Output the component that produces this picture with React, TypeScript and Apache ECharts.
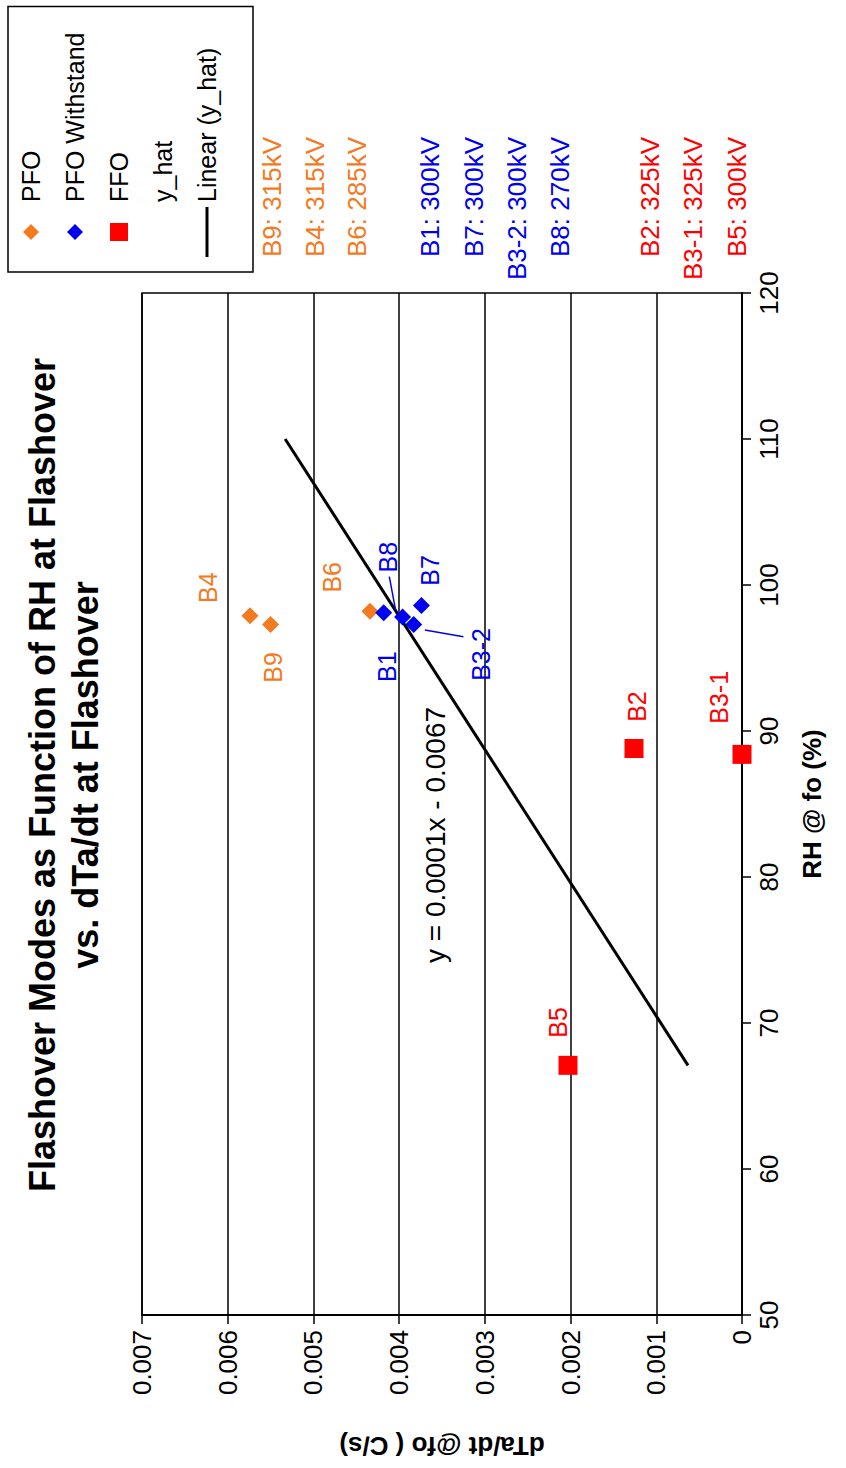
import React, { useEffect, useRef } from "react";
import * as echarts from "echarts";

const FONT = '"Liberation Sans", Arial, Helvetica, sans-serif';

// ---- texts ----
const titleLines = [
  "Flashover Modes as Function of RH at Flashover",
  "vs. dTa/dt at Flashover",
];
const xAxisName = "RH @ fo (%)";
const yAxisName = "dTa/dt @fo ( C/s)";
const equationText = "y = 0.0001x - 0.0067";

// ---- axis ranges ----
const xMin = 50;
const xMax = 120;
const xStep = 10;
const yMin = 0;
const yMax = 0.007;
const yStep = 0.001;

// ---- data ----
const pfoNames = ["B4", "B9", "B6"];
const pfoRH = [97.9, 97.3, 98.2];
const pfoRate = [0.00574, 0.0055, 0.00434];

const withstandNames = ["B1", "B8", "B3-2", "B7"];
const withstandRH = [98.1, 97.8, 97.3, 98.6];
const withstandRate = [0.00418, 0.00396, 0.00383, 0.00374];

const ffoNames = ["B5", "B2", "B3-1"];
const ffoRH = [67.1, 88.8, 88.4];
const ffoRate = [0.00203, 0.00126, 0.0];

const trendRH = [67.1, 110];
const trendRate = [0.00063, 0.00533];

// leader lines from labels to points (data space)
const leaderFromRH = [100.57, 96.92];
const leaderFromRate = [0.004115, 0.0037];
const leaderToRH = [98.24, 96.46];
const leaderToRate = [0.00404, 0.00325];

// side notes (test voltages)
const noteTexts = [
  "B9: 315kV",
  "B4: 315kV",
  "B6: 285kV",
  "B1: 300kV",
  "B7: 300kV",
  "B3-2: 300kV",
  "B8: 270kV",
  "B2: 325kV",
  "B3-1: 325kV",
  "B5: 300kV",
];
const noteGroup = [0, 0, 0, 1, 1, 1, 1, 2, 2, 2];

// ---- styles / layout ----
const ORANGE = "#F47A1F";
const BLUE = "#0000F0";
const RED = "#FF0000";
const groupColors = [ORANGE, BLUE, RED];
const noteRows = [272, 315, 357, 430, 474, 517, 560, 650, 693, 737];
const labelOffsets: Record<string, [number, number]> = {
  B4: [28, -42],
  B9: [-43, 2],
  B6: [34, -38],
  B1: [-54, 3],
  B8: [60, -15],
  "B3-2": [-30, 67],
  B7: [35, 9],
  B5: [43, -10],
  B2: [42, 3],
  "B3-1": [57, -23],
};

// legend icons: invisible anchor points keep the 50x18 box so shapes are not stretched
const ICON_DIAMOND = "path://M0,9L0,9M50,9L50,9M25,1L33,9L25,17L17,9Z";
const ICON_SQUARE = "path://M0,9L0,9M50,9L50,9M16,0L34,0L34,18L16,18Z";
const ICON_LINE = "path://M0,7.5L50,7.5L50,10.5L0,10.5Z";

const W = 1468;
const H = 846;

function points(names: string[], xs: number[], ys: number[], color: string) {
  return names.map((n, i) => ({
    name: n,
    value: [xs[i], ys[i]],
    label: { offset: labelOffsets[n] || [0, 0], color },
  }));
}

export default function App() {
  const ref = useRef<HTMLDivElement>(null);

  useEffect(() => {
    if (!ref.current) return;
    const chart = echarts.init(ref.current, undefined, { renderer: "svg" });

    const labelBase = {
      show: true,
      position: "inside",
      formatter: "{b}",
      fontFamily: FONT,
      fontSize: 25,
    };

    const option: any = {
      animation: false,
      backgroundColor: "#ffffff",
      textStyle: { fontFamily: FONT },
      grid: {
        left: 153,
        right: W - 1175,
        top: 142,
        bottom: H - 742,
        show: true,
        borderColor: "#000",
        borderWidth: 1.5,
        backgroundColor: "transparent",
      },
      xAxis: {
        type: "value",
        min: xMin,
        max: xMax,
        interval: xStep,
        name: xAxisName,
        nameLocation: "middle",
        nameGap: 57,
        nameTextStyle: { fontFamily: FONT, fontSize: 26, fontWeight: "bold", color: "#000" },
        axisLine: { show: true, onZero: false, lineStyle: { color: "#000", width: 2 } },
        axisTick: { show: true, inside: false, length: 9, lineStyle: { color: "#000", width: 1.5 } },
        axisLabel: { fontFamily: FONT, fontSize: 26, color: "#000", margin: 14 },
        splitLine: { show: false },
      },
      yAxis: {
        type: "value",
        min: yMin,
        max: yMax,
        interval: yStep,
        name: yAxisName,
        nameLocation: "middle",
        nameGap: 118,
        nameTextStyle: { fontFamily: FONT, fontSize: 26, fontWeight: "bold", color: "#000" },
        axisLine: { show: true, onZero: false, lineStyle: { color: "#000", width: 2 } },
        axisTick: { show: true, inside: false, length: 9, lineStyle: { color: "#000", width: 1.5 } },
        axisLabel: { fontFamily: FONT, fontSize: 26, color: "#000", margin: 15 },
        splitLine: { show: true, lineStyle: { color: "#000", width: 1.5 } },
      },
      legend: {
        orient: "vertical",
        left: 1196,
        top: 8,
        backgroundColor: "#fff",
        borderColor: "#000",
        borderWidth: 1.5,
        borderRadius: 0,
        padding: [9, 26, 32, 15],
        itemWidth: 50,
        itemHeight: 18,
        itemGap: 16,
        symbolKeepAspect: true,
        textStyle: { fontFamily: FONT, fontSize: 25, color: "#000", lineHeight: 28 },
        data: [
          { name: "PFO", icon: ICON_DIAMOND, itemStyle: { color: ORANGE, opacity: 1 } },
          { name: "PFO Withstand", icon: ICON_DIAMOND, itemStyle: { color: BLUE, opacity: 1 } },
          { name: "FFO", icon: ICON_SQUARE, itemStyle: { color: RED, opacity: 1 } },
          { name: "y_hat", icon: "none" },
          { name: "Linear (y_hat)", icon: ICON_LINE, itemStyle: { color: "#000", opacity: 1 } },
        ],
      },
      series: [
        {
          name: "PFO",
          type: "scatter",
          symbol: "diamond",
          symbolSize: 17,
          itemStyle: { color: ORANGE, opacity: 1 },
          label: { ...labelBase, color: ORANGE },
          data: points(pfoNames, pfoRH, pfoRate, ORANGE),
          z: 5,
        },
        {
          name: "PFO Withstand",
          type: "scatter",
          symbol: "diamond",
          symbolSize: 17,
          itemStyle: { color: BLUE, opacity: 1 },
          label: { ...labelBase, color: BLUE },
          data: points(withstandNames, withstandRH, withstandRate, BLUE),
          markLine: {
            silent: true,
            symbol: ["none", "none"],
            label: { show: false },
            lineStyle: { color: BLUE, width: 1.5, type: "solid", opacity: 1 },
            data: leaderFromRH.map((x, i) => [
              { coord: [x, leaderFromRate[i]] },
              { coord: [leaderToRH[i], leaderToRate[i]] },
            ]),
          },
          z: 5,
        },
        {
          name: "FFO",
          type: "scatter",
          symbol: "rect",
          symbolSize: 19,
          itemStyle: { color: RED, opacity: 1 },
          label: { ...labelBase, color: RED },
          data: points(ffoNames, ffoRH, ffoRate, RED),
          z: 5,
        },
        {
          name: "y_hat",
          type: "scatter",
          symbol: "none",
          itemStyle: { color: "#000" },
          data: trendRH.map((x, i) => [x, trendRate[i]]),
        },
        {
          name: "Linear (y_hat)",
          type: "line",
          symbol: "none",
          showSymbol: false,
          itemStyle: { color: "#000" },
          lineStyle: { color: "#000", width: 3 },
          data: trendRH.map((x, i) => [x, trendRate[i]]),
          z: 4,
        },
      ],
      graphic: [
        {
          type: "text",
          x: 693,
          y: 42,
          style: {
            text: titleLines[0],
            fill: "#000",
            font: `bold 36px ${FONT}`,
            textAlign: "center",
            textVerticalAlign: "middle",
          },
        },
        {
          type: "text",
          x: 693,
          y: 85,
          style: {
            text: titleLines[1],
            fill: "#000",
            font: `bold 36px ${FONT}`,
            textAlign: "center",
            textVerticalAlign: "middle",
          },
        },
        {
          type: "text",
          x: 633,
          y: 435,
          style: {
            text: equationText,
            fill: "#000",
            font: `28px ${FONT}`,
            textAlign: "center",
            textVerticalAlign: "middle",
          },
        },
        ...noteTexts.map((t, i) => ({
          type: "text",
          x: 1331,
          y: noteRows[i],
          style: {
            text: t,
            fill: groupColors[noteGroup[i]],
            font: `26px ${FONT}`,
            textAlign: "right",
            textVerticalAlign: "middle",
          },
        })),
      ],
    };

    chart.setOption(option);
    return () => chart.dispose();
  }, []);

  return (
    <div
      style={{
        position: "absolute",
        left: 0,
        top: 0,
        width: H,
        height: W,
        overflow: "hidden",
        background: "#fff",
      }}
    >
      <div
        ref={ref}
        style={{
          position: "absolute",
          left: 0,
          top: 0,
          width: W,
          height: H,
          transformOrigin: "0 0",
          transform: `translateY(${W}px) rotate(-90deg)`,
        }}
      />
    </div>
  );
}
